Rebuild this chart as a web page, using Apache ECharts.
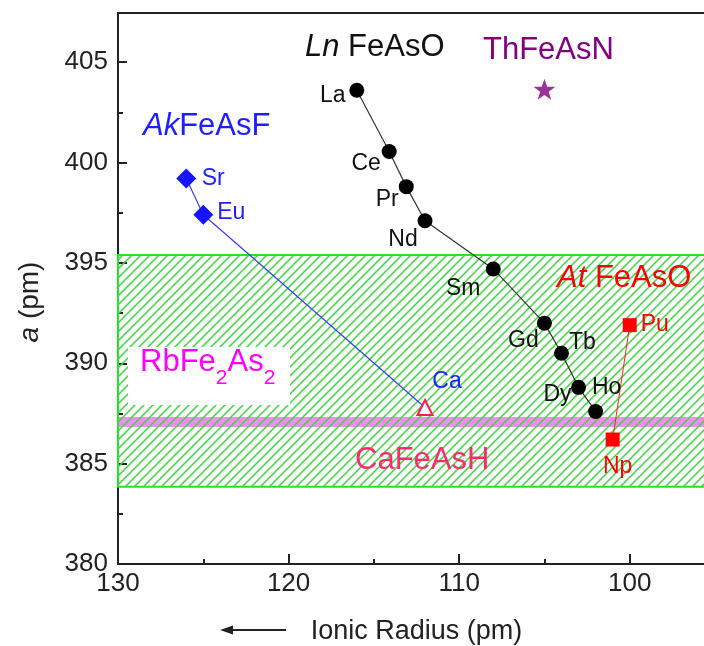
<!DOCTYPE html>
<html><head><meta charset="utf-8">
<script src="https://cdn.jsdelivr.net/npm/echarts@6/dist/echarts.min.js"></script>
<style>html,body{margin:0;padding:0;background:#fff;} #c{width:704px;height:646px;}</style>
</head><body><div id="c"></div>
<script>
// ---- data ----
const lnNames = ['La','Ce','Pr','Nd','Sm','Gd','Tb','Dy','Ho'];
const lnRadius = [116.0,114.1,113.1,112.0,108.0,105.0,104.0,103.0,102.0];
const lnA = [403.6,400.55,398.8,397.1,394.7,392.0,390.5,388.8,387.6];
const akNames = ['Sr','Eu','Ca'];
const akRadius = [126.0,125.0,112.0];
const akA = [399.2,397.4,387.8];
const atNames = ['Pu','Np'];
const atRadius = [100.0,101.0];
const atA = [391.9,386.2];
const thRadius = [105.0];
const thA = [403.65];
const rbBand = [386.82, 387.32];
const caBand = [383.85, 395.4];
const xMajorTicks = [130,120,110,100];
const yMajorTicks = [380,385,390,395,400,405];

// ---- styles ----
const FONT = "'Liberation Sans', Arial, sans-serif";
const labelOffset = {
  La:[-24,5], Ce:[-23,12], Pr:[-19,13], Nd:[-22,19], Sm:[-30,20], Gd:[-21,18], Tb:[21,-11], Dy:[-21,7], Ho:[11,-24],
  Sr:[27,0], Eu:[28,-2], Ca:[22,-26], Pu:[25,0], Np:[5,27]
};
const STAR = 'path://M50,0 L61.8,35.1 L98.1,35.1 L68.8,56.8 L79.4,91.2 L50,70 L20.6,91.2 L31.2,56.8 L1.9,35.1 L38.2,35.1 Z';

function hatchCanvas(){
  const s = 9;
  const c = document.createElement('canvas');
  c.width = s; c.height = s;
  const g = c.getContext('2d');
  g.strokeStyle = '#3ad83a';
  g.lineWidth = 1.5;
  g.beginPath();
  g.moveTo(-1, s+1); g.lineTo(s+1, -1);
  g.moveTo(-1, 1); g.lineTo(1, -1);
  g.moveTo(s-1, s+1); g.lineTo(s+1, s-1);
  g.stroke();
  return c;
}

function pts(xs, ys, names){
  return xs.map((x,i)=>({value:[x, ys[i]], name:names[i], label:{offset:labelOffset[names[i]]}}));
}

const chart = echarts.init(document.getElementById('c'), null, {renderer:'canvas'});
const tickStyle = {color:'#222', width:2};
const akData = pts(akRadius, akA, akNames);
akData[2].symbol = 'triangle';
akData[2].symbolSize = 15;
akData[2].itemStyle = {color:'#ffffff', borderColor:'#ff1a50', borderWidth:2};

const option = {
  animation:false,
  backgroundColor:'#fff',
  grid:{left:118, top:13, right:-11, bottom:82, show:true, borderColor:'#222', borderWidth:2,
        containLabel:false, outerBoundsMode:'none'},
  xAxis:[{
    type:'value', inverse:true, min:95, max:130, interval:5, position:'bottom',
    name:'Ionic Radius (pm)', nameLocation:'middle', nameGap:54,
    nameTextStyle:{fontFamily:FONT, fontSize:27, color:'#222'},
    axisLine:{show:true, onZero:false, lineStyle:{color:'#222', width:2}},
    axisTick:{show:true, inside:true, length:10, customValues:xMajorTicks, lineStyle:tickStyle},
    axisLabel:{show:true, customValues:xMajorTicks, fontFamily:FONT, fontSize:26, color:'#222', margin:7},
    splitLine:{show:false}
  },{
    type:'value', inverse:true, min:95, max:130, interval:5, position:'bottom',
    axisLine:{show:false, onZero:false},
    axisTick:{show:true, inside:true, length:5, lineStyle:tickStyle},
    axisLabel:{show:false}, splitLine:{show:false}
  }],
  yAxis:[{
    type:'value', min:380, max:407.45, interval:5, position:'left',
    name:'{i|a}{n| (pm)}', nameLocation:'middle', nameGap:74,
    nameTextStyle:{fontFamily:FONT, fontSize:28, color:'#222', padding:[0,27,0,0],
      rich:{i:{fontStyle:'italic', fontFamily:FONT, fontSize:28, color:'#222'}, n:{fontFamily:FONT, fontSize:28, color:'#222'}}},
    axisLine:{show:true, onZero:false, lineStyle:{color:'#222', width:2}},
    axisTick:{show:true, inside:true, length:9, customValues:yMajorTicks, lineStyle:tickStyle},
    axisLabel:{show:true, customValues:yMajorTicks, fontFamily:FONT, fontSize:26, color:'#222', margin:10},
    splitLine:{show:false}
  },{
    type:'value', min:380, max:407.45, interval:2.5, position:'left',
    axisLine:{show:false, onZero:false},
    axisTick:{show:true, inside:true, length:5, lineStyle:tickStyle},
    axisLabel:{show:false}, splitLine:{show:false}
  }],
  series:[
    {type:'line', name:'RbFe2As2', data:[], z:1, silent:true,
     markArea:{silent:true, itemStyle:{color:'#f58cf5'}, data:[[{yAxis:rbBand[0]},{yAxis:rbBand[1]}]]}},
    {type:'line', name:'LnFeAsO', data:pts(lnRadius, lnA, lnNames), z:3,
     symbol:'circle', symbolSize:15, itemStyle:{color:'#000'}, lineStyle:{color:'#333', width:1.2},
     label:{show:true, position:'inside', formatter:'{b}', fontFamily:FONT, fontSize:23, color:'#111'}},
    {type:'line', name:'AkFeAsF', data:akData, z:3,
     symbol:'diamond', symbolSize:20, itemStyle:{color:'#1515ff'}, lineStyle:{color:'#3a3aff', width:1.2},
     label:{show:true, position:'inside', formatter:'{b}', fontFamily:FONT, fontSize:23, color:'#1e1eff'}},
    {type:'line', name:'AtFeAsO', data:pts(atRadius, atA, atNames), z:3,
     symbol:'rect', symbolSize:14, itemStyle:{color:'#ff0000'}, lineStyle:{color:'#ff2020', width:1},
     label:{show:true, position:'inside', formatter:'{b}', fontFamily:FONT, fontSize:23, color:'#ff0000'}},
    {type:'scatter', name:'ThFeAsN', data:thRadius.map((x,i)=>[x, thA[i]]), z:3,
     symbol:STAR, symbolSize:[22,21], itemStyle:{color:'#800080'}},
    {type:'line', name:'CaFeAsH', data:[], z:10, silent:true,
     markArea:{silent:true, itemStyle:{color:{image:hatchCanvas(), repeat:'repeat'}, borderColor:'#22e822', borderWidth:2},
       data:[[{yAxis:caBand[0]},{yAxis:caBand[1]}]]}}
  ],
  graphic:[
    {type:'text', x:305, y:47, z:50, style:{text:'{i|Ln}{n| FeAsO}', verticalAlign:'middle', textVerticalAlign:'middle',
      rich:{i:{fontStyle:'italic', fontFamily:FONT, fontSize:31, fill:'#111', color:'#111'}, n:{fontFamily:FONT, fontSize:31, fill:'#111', color:'#111'}}}},
    {type:'text', x:483, y:50, z:50, style:{text:'ThFeAsN', fontFamily:FONT, fontSize:31, fill:'#800080', verticalAlign:'middle', textVerticalAlign:'middle'}},
    {type:'text', x:143, y:126, z:50, style:{text:'{i|Ak}{n|FeAsF}', verticalAlign:'middle', textVerticalAlign:'middle',
      rich:{i:{fontStyle:'italic', fontFamily:FONT, fontSize:31, fill:'#1e1eff', color:'#1e1eff'}, n:{fontFamily:FONT, fontSize:31, fill:'#1e1eff', color:'#1e1eff'}}}},
    {type:'text', x:557, y:278, z:50, style:{text:'{i|At}{n| FeAsO}', verticalAlign:'middle', textVerticalAlign:'middle',
      rich:{i:{fontStyle:'italic', fontFamily:FONT, fontSize:31, fill:'#ff0000', color:'#ff0000'}, n:{fontFamily:FONT, fontSize:31, fill:'#ff0000', color:'#ff0000'}}}},
    {type:'text', x:355, y:460, z:50, style:{text:'CaFeAsH', fontFamily:FONT, fontSize:31, fill:'#ff2a6e', verticalAlign:'middle', textVerticalAlign:'middle'}},
    {type:'rect', z:60, shape:{x:128, y:347, width:162, height:58}, style:{fill:'#fff'}},
    {type:'text', x:140, y:347, z:61, style:{text:'{m|RbFe}{s|2}{m|As}{s|2}', verticalAlign:'top', textVerticalAlign:'top',
      rich:{m:{fontFamily:FONT, fontSize:31, lineHeight:42, verticalAlign:'top', fill:'#ff00ff', color:'#ff00ff'},
            s:{fontFamily:FONT, fontSize:21, lineHeight:21, verticalAlign:'bottom', fill:'#ff00ff', color:'#ff00ff'}}}},
    {type:'line', z:50, shape:{x1:286, y1:630, x2:230, y2:630}, style:{stroke:'#222', lineWidth:2}},
    {type:'polygon', z:50, shape:{points:[[220,630],[233,625.5],[233,634.5]]}, style:{fill:'#222'}}
  ]
};
chart.setOption(option);
</script></body></html>
